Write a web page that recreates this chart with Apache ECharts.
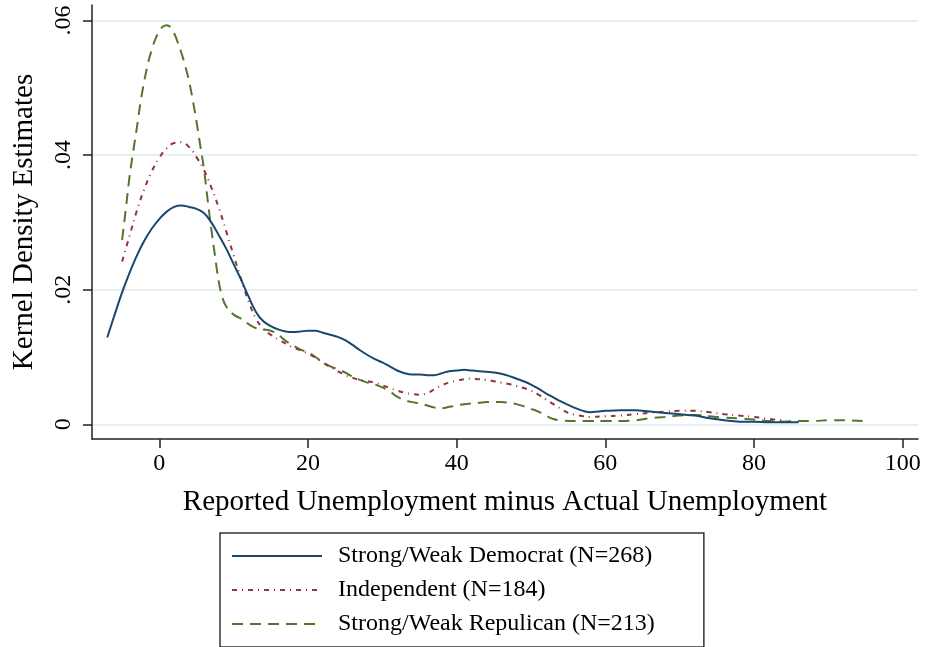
<!DOCTYPE html>
<html>
<head>
<meta charset="utf-8">
<script src="https://cdn.jsdelivr.net/npm/echarts@6/dist/echarts.min.js"></script>
<style>
html,body{margin:0;padding:0;background:#fff;}
#chart{width:925px;height:647px;}
</style>
</head>
<body>
<div id="chart"></div>
<script>
const xTicks = [0, 20, 40, 60, 80, 100];
const yTicks = [0, 0.02, 0.04, 0.06];

const seriesNames = [
  'Strong/Weak Democrat (N=268)',
  'Independent (N=184)',
  'Strong/Weak Repulican (N=213)'
];

const democrat = [
  [-7,0.0129],[-6,0.0163],[-5,0.0196],[-4,0.0225],[-3,0.0251],[-2,0.0273],[-1,0.0291],
  [0,0.0305],[1,0.0316],[2,0.0323],[3,0.0325],[4,0.0323],[5,0.0320],[6,0.0314],[7,0.0300],
  [8,0.0281],[9,0.0261],[10,0.0238],[11,0.0215],[12,0.0190],[13,0.0167],[14,0.0153],
  [15,0.0146],[16,0.0141],[17,0.0138],[18,0.0137],[19,0.0138],[20,0.0139],[21,0.0139],
  [22,0.0136],[23,0.0133],[24,0.0130],[25,0.0125],[26,0.0118],[27,0.0110],[28,0.0103],
  [29,0.0097],[30,0.0092],[31,0.0086],[32,0.0080],[33,0.0076],[34,0.0074],[35,0.0074],
  [36,0.0073],[37,0.0073],[38,0.0076],[39,0.0079],[40,0.0080],[41,0.0081],[42,0.0080],
  [43,0.0079],[44,0.0078],[45,0.0077],[46,0.0075],[47,0.0072],[48,0.0068],[49,0.0064],
  [50,0.0059],[51,0.0053],[52,0.0046],[53,0.0040],[54,0.0034],[55,0.0029],[56,0.0024],
  [57,0.0020],[58,0.0018],[59,0.0019],[60,0.0020],[62,0.0021],[64,0.0021],[66,0.0019],
  [68,0.0017],[70,0.0015],[72,0.0013],[74,0.0009],[76,0.0006],[78,0.0004],[80,0.0004],
  [82,0.0003],[84,0.0003],[86,0.0003]
];

const independent = [
  [-5,0.0242],[-4,0.0280],[-3,0.0318],[-2,0.0350],[-1,0.0376],[0,0.0396],[1,0.0410],
  [2,0.0418],[3,0.0419],[4,0.0412],[5,0.0397],[6,0.0378],[7,0.0352],[8,0.0322],[9,0.0287],
  [10,0.0251],[11,0.0216],[12,0.0183],[13,0.0157],[14,0.0142],[15,0.0133],[16,0.0126],
  [17,0.0120],[18,0.0114],[19,0.0110],[20,0.0105],[21,0.0099],[22,0.0092],[23,0.0085],
  [24,0.0079],[25,0.0073],[26,0.0069],[27,0.0066],[28,0.0064],[29,0.0062],[30,0.0058],
  [31,0.0054],[32,0.0050],[33,0.0047],[34,0.0045],[35,0.0044],[36,0.0046],[37,0.0052],
  [38,0.0058],[39,0.0062],[40,0.0065],[41,0.0067],[42,0.0068],[43,0.0067],[44,0.0066],
  [45,0.0064],[46,0.0062],[47,0.0060],[48,0.0057],[49,0.0054],[50,0.0050],[51,0.0044],
  [52,0.0037],[53,0.0030],[54,0.0023],[55,0.0017],[56,0.0014],[57,0.0012],[58,0.0011],
  [60,0.0012],[62,0.0013],[64,0.0015],[66,0.0017],[68,0.0019],[70,0.0020],[72,0.0020],
  [74,0.0018],[76,0.0015],[78,0.0013],[80,0.0011],[82,0.0008],[84,0.0006]
];

const republican = [
  [-5,0.0274],[-4.5,0.0320],[-4,0.0368],[-3.5,0.0406],[-3,0.0442],[-2.5,0.0480],
  [-2,0.0511],[-1.5,0.0537],[-1,0.0557],[-0.5,0.0573],[0,0.0584],[0.5,0.0591],[1,0.0593],
  [1.5,0.0590],[2,0.0581],[2.5,0.0567],[3,0.0551],[3.5,0.0532],[4,0.0510],[4.5,0.0482],
  [5,0.0450],[5.5,0.0415],[6,0.0380],[6.5,0.0334],[7,0.0290],[7.5,0.0250],[8,0.0212],
  [8.5,0.0188],[9,0.0175],[10,0.0163],[11,0.0157],[12,0.0149],[13,0.0143],[14,0.0141],
  [15,0.0139],[16,0.0133],[17,0.0124],[18,0.0117],[19,0.0111],[20,0.0107],[21,0.0100],
  [22,0.0092],[23,0.0086],[24,0.0082],[25,0.0077],[26,0.0071],[27,0.0066],[28,0.0062],
  [29,0.0059],[30,0.0055],[31,0.0049],[32,0.0041],[33,0.0036],[34,0.0033],[35,0.0031],
  [36,0.0028],[37,0.0025],[38,0.0024],[39,0.0026],[40,0.0028],[41,0.0030],[42,0.0031],
  [43,0.0032],[44,0.0033],[45,0.0033],[46,0.0033],[47,0.0032],[48,0.0030],[49,0.0027],
  [50,0.0023],[51,0.0019],[52,0.0013],[53,0.0008],[54,0.0006],[56,0.0005],[58,0.0005],
  [60,0.0005],[62,0.0005],[64,0.0006],[66,0.0009],[68,0.0011],[70,0.0013],[72,0.0014],
  [74,0.0012],[76,0.0010],[78,0.0009],[80,0.0007],[82,0.0005],[84,0.0004],[86,0.0005],
  [88,0.0005],[90,0.0006],[92,0.0006],[94.6,0.0005]
];

const FONT = '"Liberation Serif", "Times New Roman", serif';
const colors = ['#1a476f', '#90353b', '#55752f'];

const chart = echarts.init(document.getElementById('chart'), null, {renderer: 'canvas'});

function yFmt(v) {
  if (v === 0) return '0';
  return String(Math.round(v * 100) / 100).replace(/^0\./, '.');
}

chart.setOption({
  animation: false,
  backgroundColor: '#ffffff',
  color: colors,
  grid: {left: 92, right: 7, top: 5, bottom: 208, containLabel: false},
  legend: {
    orient: 'vertical',
    left: 220,
    top: 533,
    padding: [11, 49, 11, 11],
    itemGap: 10,
    itemWidth: 90,
    itemHeight: 14,
    borderColor: '#333',
    borderWidth: 1.5,
    borderRadius: 0,
    itemStyle: {opacity: 0},
    textStyle: {fontFamily: FONT, fontSize: 24, color: '#000', lineHeight: 24, padding: [0, 0, 0, 11]},
    data: seriesNames
  },
  xAxis: {
    type: 'value',
    min: -9.05,
    max: 102.05,
    name: 'Reported Unemployment minus Actual Unemployment',
    nameLocation: 'middle',
    nameGap: 49,
    nameTextStyle: {fontFamily: FONT, fontSize: 29, color: '#000', lineHeight: 29},
    axisLine: {show: true, onZero: false, lineStyle: {color: '#222', width: 1.5}},
    axisTick: {show: true, length: 9, customValues: xTicks, lineStyle: {color: '#222', width: 1.5}},
    axisLabel: {customValues: xTicks, fontFamily: FONT, fontSize: 24, color: '#000', margin: 13, lineHeight: 24},
    splitLine: {show: false}
  },
  yAxis: {
    type: 'value',
    min: -0.00218,
    max: 0.0623,
    name: 'Kernel Density Estimates',
    nameLocation: 'middle',
    nameGap: 53,
    nameTextStyle: {fontFamily: FONT, fontSize: 29, color: '#000', lineHeight: 29},
    axisLine: {show: true, onZero: false, lineStyle: {color: '#222', width: 1.5}},
    axisTick: {show: true, length: 9, customValues: yTicks, lineStyle: {color: '#222', width: 1.5}},
    axisLabel: {customValues: yTicks, rotate: 90, formatter: yFmt, fontFamily: FONT, fontSize: 24, color: '#000', margin: 16, lineHeight: 24},
    splitLine: {show: true, lineStyle: {color: '#e6eff2', width: 2}}
  },
  series: [
    {
      name: seriesNames[0], type: 'line', data: democrat, symbol: 'none', smooth: 0.4,
      lineStyle: {color: colors[0], width: 2, type: 'solid'}, z: 3
    },
    {
      name: seriesNames[1], type: 'line', data: independent, symbol: 'none', smooth: 0.4,
      lineStyle: {color: colors[1], width: 2, type: [5, 5, 1, 5]}, z: 2
    },
    {
      name: seriesNames[2], type: 'line', data: republican, symbol: 'none', smooth: 0.4,
      lineStyle: {color: colors[2], width: 2, type: [11, 7]}, z: 1
    }
  ]
});
</script>
</body>
</html>
